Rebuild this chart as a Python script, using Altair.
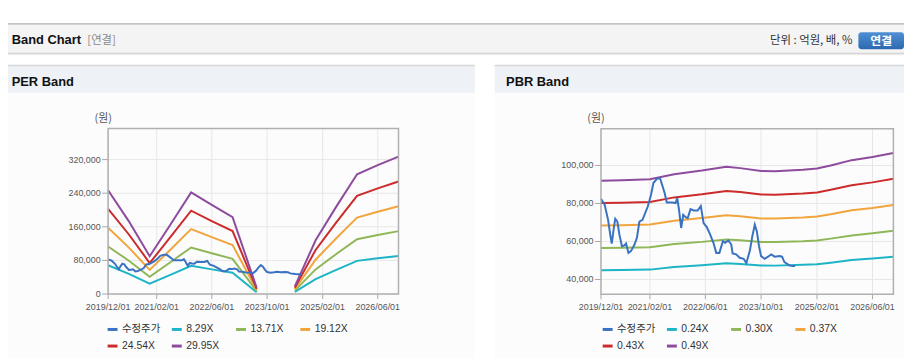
import altair as alt
import pandas as pd

# ---------------- data ----------------
per_band_dates = ["2019-12-01", "2020-06-01", "2020-12-01", "2021-06-01", "2021-12-01",
                  "2022-06-01", "2022-12-01", "2023-07-01",
                  "2024-06-01", "2024-12-01", "2025-06-01", "2025-12-01", "2026-06-01", "2026-12-01"]
per_band_segment = [1, 1, 1, 1, 1, 1, 1, 1, 2, 2, 2, 2, 2, 2]
per_829 = [68400, 47900, 24900, 45700, 67000, 58700, 50700, 4200, 5000, 35400, 57600, 78900, 85000, 90500]
per_1371 = [113100, 79200, 41200, 75500, 110800, 97000, 83800, 6900, 8200, 58600, 95200, 130500, 140500, 149700]
per_1912 = [157700, 110400, 57500, 105300, 154500, 135300, 116800, 9600, 11500, 81700, 132800, 181900, 196000, 208800]
per_2454 = [202400, 141700, 73700, 135200, 198300, 173700, 149900, 12300, 14700, 104900, 170400, 233500, 251500, 267900]
per_2995 = [247000, 173000, 90000, 165000, 242000, 212000, 183000, 15000, 18000, 128000, 208000, 285000, 307000, 327000]

pbr_band_dates = ["2019-12-01", "2020-06-01", "2021-02-01", "2021-09-01", "2022-05-01", "2022-12-01",
                  "2023-04-01", "2023-10-01", "2024-02-01", "2024-10-01", "2025-02-01", "2025-06-01",
                  "2025-12-01", "2026-06-01", "2026-12-01"]
pbr_024 = [44900, 45000, 45200, 46600, 47500, 48500, 48100, 47400, 47300, 47700, 48000, 48800, 50200, 51000, 52000]
pbr_030 = [56600, 56700, 57000, 58700, 59800, 61100, 60600, 59700, 59700, 60100, 60500, 61500, 63200, 64300, 65600]
pbr_037 = [68400, 68500, 68900, 70900, 72300, 73800, 73300, 72100, 72100, 72600, 73100, 74300, 76400, 77600, 79200]
pbr_043 = [80200, 80400, 80800, 83200, 84800, 86600, 86000, 84700, 84600, 85200, 85800, 87200, 89600, 91100, 93000]
pbr_049 = [92000, 92200, 92700, 95400, 97300, 99300, 98600, 97100, 97000, 97700, 98400, 100000, 102800, 104500, 106600]

price_dates = ["2019-12-01", "2020-01-02", "2020-02-01", "2020-02-22", "2020-03-04", "2020-03-22",
               "2020-04-04", "2020-04-22", "2020-05-10", "2020-06-01", "2020-06-22", "2020-07-07",
               "2020-07-28", "2020-08-19", "2020-09-19", "2020-10-10", "2020-11-01", "2020-11-28",
               "2021-01-13", "2021-02-10", "2021-03-04", "2021-04-07", "2021-05-01", "2021-05-19",
               "2021-06-10", "2021-06-28", "2021-08-16", "2021-09-13", "2021-09-28", "2021-10-13",
               "2021-11-01", "2021-11-19", "2021-12-10", "2021-12-28", "2022-01-22", "2022-02-19",
               "2022-03-25", "2022-04-22", "2022-05-16", "2022-06-13", "2022-07-13", "2022-08-10",
               "2022-09-04", "2022-10-01", "2022-11-01", "2022-11-22", "2022-12-19", "2023-01-13",
               "2023-01-25", "2023-02-25", "2023-03-28", "2023-05-01", "2023-05-25", "2023-06-25",
               "2023-07-16", "2023-08-07", "2023-08-25", "2023-09-13", "2023-10-01", "2023-11-01",
               "2023-12-01", "2023-12-28", "2024-01-28", "2024-03-10", "2024-04-01", "2024-04-22",
               "2024-06-04", "2024-07-01", "2024-07-25"]
price_values = [82500, 79300, 71400, 62700, 58900, 67100,
                72000, 70500, 63600, 57500, 57900, 58900,
                54000, 54900, 58400, 61900, 70500, 71400,
                78400, 84500, 90900, 93200, 93200, 89700,
                85400, 80500, 80500, 80200, 82800, 76700,
                67100, 74000, 72800, 72300, 77000, 76300,
                76300, 78700, 69700, 67600, 63600, 59300,
                54000, 54000, 60100, 59300, 60600, 58400,
                53700, 53200, 51400, 50900, 48600, 55300,
                62700, 68800, 65300, 57500, 52300, 50900,
                52000, 53200, 52000, 52300, 52000, 49100,
                47400, 47100, 47100]

per_series = ["수정주가", "8.29X", "13.71X", "19.12X", "24.54X", "29.95X"]
pbr_series = ["수정주가", "0.24X", "0.30X", "0.37X", "0.43X", "0.49X"]
series_colors = ["#3a72c2", "#1db4c6", "#8fb757", "#f1a53c", "#cb2b2b", "#8d4b9d"]

x_tick_dates = ["2019-12-01", "2021-02-01", "2022-06-01", "2023-10-01", "2025-02-01", "2026-06-01"]
x_tick_labels = ["2019/12/01", "2021/02/01", "2022/06/01", "2023/10/01", "2025/02/01", "2026/06/01"]
per_y_ticks = [0, 80000, 160000, 240000, 320000]
pbr_y_ticks = [40000, 60000, 80000, 100000]
per_y_domain = [0, 394000]
pbr_y_domain = [32200, 119300]
x_domain_dates = ["2019-12-01", "2026-12-01"]

FONT = "Liberation Sans, Noto Sans CJK KR, sans-serif"
KFONT = "Noto Sans CJK KR, sans-serif"
W, H = 904, 352

# ---------------- tables ----------------
def band_table(dates, segs, names, arrays):
    rows = []
    for name, arr in zip(names, arrays):
        for d, s, v in zip(dates, segs, arr):
            rows.append({"date": d, "seg": s, "value": v, "series": name})
    return pd.DataFrame(rows)

per_bands = band_table(per_band_dates, per_band_segment, per_series[1:],
                       [per_829, per_1371, per_1912, per_2454, per_2995])
pbr_bands = band_table(pbr_band_dates, [1] * len(pbr_band_dates), pbr_series[1:],
                       [pbr_024, pbr_030, pbr_037, pbr_043, pbr_049])
price_df = pd.DataFrame({"date": price_dates, "value": price_values, "series": "수정주가"})
xt_df = pd.DataFrame({"date": x_tick_dates, "label": x_tick_labels})
one = pd.DataFrame({"a": [0]})


def ms(d):
    return int(pd.Timestamp(d, tz="UTC").value // 10**6)


def panel(bands, series, y_domain, y_ticks, left, right, top, bottom, legend_x):
    xs = alt.Scale(type="utc", domain=[ms(d) for d in x_domain_dates], range=[left, right])
    ys = alt.Scale(domain=y_domain, range=[bottom, top], nice=False, zero=False)
    X = alt.X("date:T", scale=xs, axis=None)
    Y = alt.Y("value:Q", scale=ys, axis=None)
    color = alt.Color(
        "series:N",
        scale=alt.Scale(domain=series, range=series_colors),
        legend=alt.Legend(orient="none", legendX=legend_x, legendY=316, direction="horizontal",
                          columns=4, symbolType="stroke", symbolStrokeWidth=3, symbolSize=100,
                          labelFont=FONT, labelFontSize=10.5, labelColor="#333333",
                          gridAlign="all", columnPadding=4.8, rowPadding=4, labelOffset=3,
                          title=None, padding=0),
    )
    yt_df = pd.DataFrame({"value": y_ticks})
    vgrid = alt.Chart(xt_df).mark_rule(color="#e7e7e7", strokeWidth=1).encode(
        x=X, y=alt.value(top), y2=alt.value(bottom))
    vtick = alt.Chart(xt_df).mark_rule(color="#a8a8a8", strokeWidth=1).encode(
        x=X, y=alt.value(bottom), y2=alt.value(bottom + 5))
    hgrid = alt.Chart(yt_df).mark_rule(color="#e7e7e7", strokeWidth=1).encode(
        y=Y, x=alt.value(left), x2=alt.value(right))
    htick = alt.Chart(yt_df).mark_rule(color="#a8a8a8", strokeWidth=1).encode(
        y=Y, x=alt.value(left - 6), x2=alt.value(left))
    frame = alt.Chart(one).mark_rect(fill="transparent", stroke="#b0b0b0", strokeWidth=1.5).encode(
        x=alt.value(left), x2=alt.value(right), y=alt.value(top), y2=alt.value(bottom))
    band_lines = alt.Chart(bands).mark_line(strokeWidth=2).encode(
        x=X, y=Y, color=color, detail="seg:N")
    price_line = alt.Chart(price_df).mark_line(strokeWidth=2).encode(x=X, y=Y, color=color)
    xlabels = alt.Chart(xt_df).mark_text(font=FONT, fontSize=9, color="#555555", baseline="middle").encode(
        x=X, y=alt.value(300.5), text="label:N")
    ylabels = alt.Chart(yt_df).mark_text(font=FONT, fontSize=9, color="#555555", align="right",
                                         baseline="middle").encode(
        y=Y, x=alt.value(left - 7.5), text=alt.Text("value:Q", format=","))
    unit = alt.Chart(one).mark_text(text="(원)", font=KFONT, fontSize=11, color="#555555",
                                    baseline="middle").encode(x=alt.value(left - 5), y=alt.value(110))
    return alt.layer(vgrid, hgrid, vtick, htick, band_lines, price_line, frame, xlabels, ylabels, unit)


def box(x1, x2, y1, y2, **kw):
    return alt.Chart(one).mark_rect(**kw).encode(
        x=alt.value(x1), x2=alt.value(x2), y=alt.value(y1), y2=alt.value(y2))


def hline(x1, x2, y, color, width=1):
    return alt.Chart(one).mark_rule(color=color, strokeWidth=width).encode(
        x=alt.value(x1), x2=alt.value(x2), y=alt.value(y))


def label(txt, x, y, **kw):
    return alt.Chart(one).mark_text(text=txt, baseline="alphabetic", **kw).encode(
        x=alt.value(x), y=alt.value(y))


shadow = alt.Gradient(gradient="linear", x1=0, x2=0, y1=0, y2=1,
                      stops=[alt.GradientStop(color="#c8c8c8", offset=0),
                             alt.GradientStop(color="#ffffff", offset=1)])
btn = alt.Gradient(gradient="linear", x1=0, x2=0, y1=0, y2=1,
                   stops=[alt.GradientStop(color="#4f8fd4", offset=0),
                          alt.GradientStop(color="#2c69b0", offset=1)])

deco = [
    box(0, W, 14.5, 43.5, fill="#f4f4f4"),
    box(0, W, 43.5, 46.5, fill=shadow),
    hline(0, W, 14.5, "#b0b0b0", 1.2),
    label("Band Chart", 3.7, 35, font="Liberation Sans", fontSize=13, fontWeight="bold", color="#111111",
          align="left"),
    label("[연결]", 80, 35, font=KFONT, fontSize=11.5, color="#8a8a8a", align="left"),
    label("단위 : 억원, 배, %", 852, 34.5, font=KFONT, fontSize=11.5, color="#333333", align="right"),
    box(858, W, 23, 40, fill=btn, cornerRadius=3),
    label("연결", 881, 35.5, font=KFONT, fontSize=12, fontWeight="bold", color="#ffffff", align="center"),
    box(0, 471, 84, H, fill="#fcfcfc"),
    box(491, W, 84, H, fill="#fcfcfc"),
    box(0, 471, 56, 84, fill="#eef1f5"),
    box(491, W, 56, 84, fill="#eef1f5"),
    hline(0, 471, 56.5, "#d6d6d6", 1.5),
    hline(491, W, 56.5, "#d6d6d6", 1.5),
    label("PER Band", 3.7, 77, font="Liberation Sans", fontSize=13, fontWeight="bold", color="#111111",
          align="left"),
    label("PBR Band", 502.5, 77, font="Liberation Sans", fontSize=13, fontWeight="bold", color="#111111",
          align="left"),
]

per_panel = panel(per_bands, per_series, per_y_domain, per_y_ticks, 101, 394, 120, 287, 99)
pbr_panel = panel(pbr_bands, pbr_series, pbr_y_domain, pbr_y_ticks, 598.3, 893.3, 120.3, 287.3, 598.5)

chart = alt.layer(*deco, per_panel, pbr_panel).resolve_scale(
    x="independent", y="independent", color="independent"
).properties(
    width=W, height=H, padding=0, autosize=alt.AutoSizeParams(type="none")
).configure_view(stroke="transparent", strokeWidth=0)

chart.save("out.html", embed_options={"renderer": "svg", "actions": False})
